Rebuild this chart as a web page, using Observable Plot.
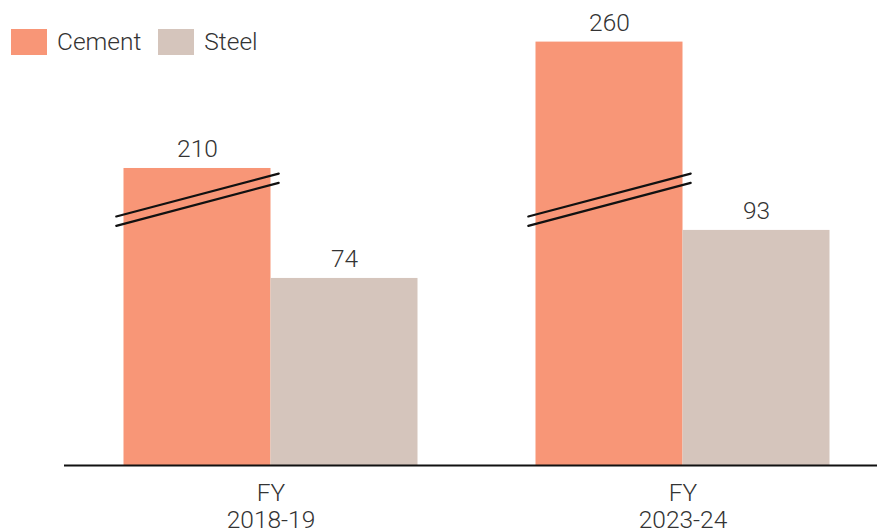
<!DOCTYPE html>
<html>
<head>
<meta charset="utf-8">
<script src="https://cdn.jsdelivr.net/npm/d3@7"></script>
<script src="https://cdn.jsdelivr.net/npm/@observablehq/plot@0.6"></script>
<style>
  html, body { margin: 0; padding: 0; background: #fff; }
  #wrap { position: relative; width: 877px; height: 531px; font-family: Roboto, sans-serif; font-weight: 300; }
  #legend { position: absolute; left: 11px; top: 27px; display: flex; align-items: center; font-size: 24.5px; color: #333; }
  #legend .item { display: flex; align-items: center; margin-right: 17px; }
  #legend .sw { width: 36px; height: 26px; margin-right: 10px; }
</style>
</head>
<body>
<div id="wrap"><div id="legend"></div></div>
<script>
// ---- data ----
const years = ["2018-19", "2023-24"];
const series = ["Cement", "Steel"];
const cement = [210, 260];
const steel = [74, 93];
const seriesColors = ["#F89677", "#D5C5BC"];

// broken-axis settings for the cement bars (display units)
const cementBreakGap = 92.5;
const breakLevels = [107, 103.3];

const cementRows = years.map((y, i) => ({year: y, value: cement[i], shown: cement[i] - cementBreakGap}));
const steelRows = years.map((y, i) => ({year: y, value: steel[i], shown: steel[i]}));
const breakRows = years.flatMap(y => breakLevels.map(b => ({year: y, level: b})));

const half = 73.5;
const lineShape = {draw(context, l) { context.moveTo(0, 0); context.lineTo(0, -l); }};

const chart = Plot.plot({
  width: 877,
  height: 531,
  marginLeft: 64,
  marginRight: 0,
  marginTop: 10,
  marginBottom: 66,
  style: {fontFamily: "Roboto, sans-serif", fontWeight: 300, background: "transparent"},
  x: {domain: years, paddingInner: 0.6432, paddingOuter: 0.307, align: 0.525, label: null},
  y: {domain: [0, 180], axis: null},
  marks: [
    Plot.barY(cementRows, {x: "year", y: "shown", fill: seriesColors[0], dx: -half}),
    Plot.barY(steelRows, {x: "year", y: "shown", fill: seriesColors[1], dx: half}),
    Plot.vector(breakRows, {x: "year", y: "level", dx: -half, length: 168, rotate: 75.2, anchor: "middle", shape: lineShape, stroke: "#111", strokeWidth: 2.2}),
    Plot.text(cementRows, {x: "year", y: "shown", text: "value", dx: -half, dy: -19, fontSize: 24.5, fill: "#333"}),
    Plot.text(steelRows, {x: "year", y: "shown", text: "value", dx: half, dy: -19, fontSize: 24.5, fill: "#333"}),
    Plot.ruleY([0], {stroke: "#111", strokeWidth: 2}),
    Plot.axisX({tickSize: 0, tickPadding: 16, fontSize: 24.5, lineHeight: 1.1, fill: "#333", tickFormat: d => "FY\n" + d, label: null})
  ]
});
chart.style.position = "absolute";
chart.style.left = "0";
chart.style.top = "0";
const wrap = document.getElementById("wrap");
wrap.insertBefore(chart, wrap.firstChild);

const legend = document.getElementById("legend");
series.forEach((s, i) => {
  const item = document.createElement("div");
  item.className = "item";
  const sw = document.createElement("div");
  sw.className = "sw";
  sw.style.background = seriesColors[i];
  const label = document.createElement("span");
  label.textContent = s;
  item.appendChild(sw);
  item.appendChild(label);
  legend.appendChild(item);
});
</script>
</body>
</html>
